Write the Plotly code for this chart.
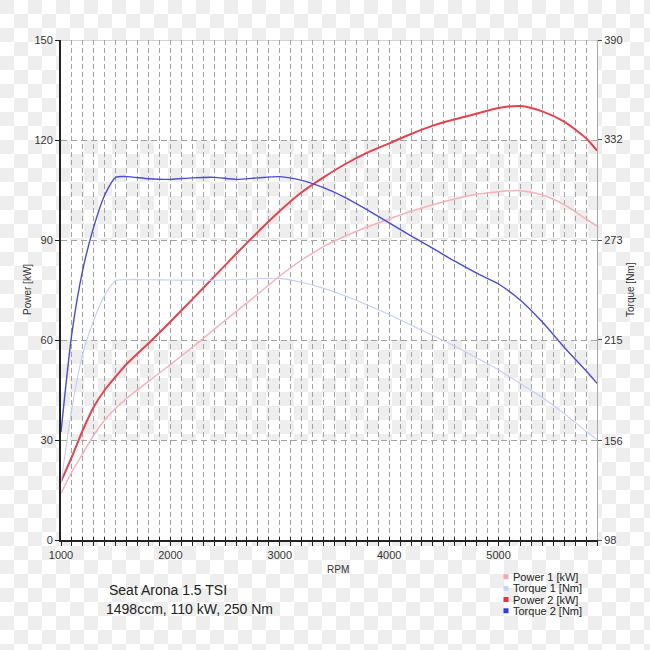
import base64
import plotly.graph_objects as go

# ---- data ----
rpm = [1000, 1100, 1200, 1300, 1400, 1500, 1600, 1800, 2000, 2200, 2400, 2600, 2800, 3000,
       3200, 3400, 3600, 3800, 4000, 4200, 4400, 4600, 4800, 5000, 5200, 5400, 5600, 5800, 5900]
power1 = [14, 20.5, 26, 31.5, 36, 39.5, 42.5, 47.6, 52.6, 57.8, 63.2, 68.5, 73.8, 79.2,
          84, 88, 91.2, 93.9, 96.3, 98.6, 100.6, 102.3, 103.7, 104.5, 104.8, 103.6, 100.6, 96.3, 94.2]
torque1 = [131, 175, 207, 226.5, 241, 249.4, 250, 250, 249.8, 249.8, 249.7, 250, 250.6, 250.8,
           248.5, 245, 240.5, 235.3, 229.7, 223.5, 217.5, 211.2, 204.4, 197.3, 189.3, 181.2, 171.8, 161.5, 156.8]
power2 = [17.5, 25, 33, 40, 45, 49, 52.8, 59, 65.5, 72.2, 79, 85.8, 92.4, 98.7,
          104.3, 108.8, 112.8, 116.2, 119, 121.8, 124.3, 126.2, 127.9, 129.6, 130.2, 128.6, 125.5, 120.5, 116.8]
torque2 = [161, 219, 256, 281, 299.5, 309.8, 310.2, 309, 308.6, 309.5, 309.8, 308.6, 309.5, 310.2,
           308, 303.8, 298, 290.8, 283.2, 275.6, 268.3, 260.8, 253.8, 247.5, 238, 225.3, 210.6, 196.8, 189.5]

power_ticks = [0, 30, 60, 90, 120, 150]
torque_ticks = [98, 156, 215, 273, 332, 390]
rpm_ticks = [1000, 2000, 3000, 4000, 5000]

series_names = ["Power 1 [kW]", "Torque 1 [Nm]", "Power 2 [kW]", "Torque 2 [Nm]"]
line_colors = ["#f5b3bb", "#c3cff6", "#e8414e", "#4b4bd9"]
key_colors = ["#f4a9b1", "#c6d2f8", "#e8303f", "#2e3be0"]
title_lines = ["Seat Arona 1.5 TSI", "1498ccm, 110 kW, 250 Nm"]

FONT = "Liberation Sans, Arial, sans-serif"
W, H = 650, 650
L, R, T, B = 61, 53, 40, 110
PW, PH = W - L - R, H - T - B


def px_x(px):
    return (px - L) / PW


def px_y(py):
    return (H - B - py) / PH


fig = go.Figure()

series = [(power1, "y", 1.5), (torque1, "y2", 1.1), (power2, "y", 2.0), (torque2, "y2", 1.4)]
order = [1, 0, 3, 2]
for i in order:
    vals, ax, w = series[i]
    fig.add_trace(go.Scatter(
        x=rpm, y=vals, yaxis=ax, xaxis="x2" if i == 1 else "x", mode="lines", name=series_names[i],
        line=dict(color=line_colors[i], width=w, shape="spline", smoothing=0.7),
        showlegend=False, hoverinfo="skip"))

# checkerboard background (transparent-image look)
svg = (f"<svg xmlns='http://www.w3.org/2000/svg' width='{W}' height='{H}'>"
       "<defs><pattern id='p' width='28' height='28' patternUnits='userSpaceOnUse'>"
       "<rect width='28' height='28' fill='#ffffff'/>"
       "<rect width='14' height='14' fill='#eeeeee'/>"
       "<rect x='14' y='14' width='14' height='14' fill='#eeeeee'/>"
       "</pattern></defs>"
       f"<rect width='{W}' height='{H}' fill='url(#p)'/></svg>")
src = "data:image/svg+xml;base64," + base64.b64encode(svg.encode()).decode()

shapes = []
for y0, y1 in [(0, 30), (60, 90), (120, 150)]:
    shapes.append(dict(type="rect", xref="paper", yref="y", x0=0, x1=1, y0=y0, y1=y1,
                       fillcolor="white", line=dict(width=0), layer="below"))
shapes.append(dict(type="line", xref="paper", yref="y", x0=0, x1=1, y0=150, y1=150,
                   line=dict(color="#a8a8a8", width=1), layer="above"))

annotations = []
lab = dict(size=10, color="#333", family=FONT)
annotations.append(dict(text="Power [kW]", xref="paper", yref="paper", x=px_x(27), y=0.5,
                        xanchor="center", yanchor="middle", textangle=-90, showarrow=False, font=lab))
annotations.append(dict(text="Torque [Nm]", xref="paper", yref="paper", x=px_x(630), y=0.5,
                        xanchor="center", yanchor="middle", textangle=-90, showarrow=False, font=lab))
annotations.append(dict(text="RPM", xref="paper", yref="paper", x=px_x(338), y=px_y(569),
                        xanchor="center", yanchor="middle", showarrow=False, font=lab))
annotations.append(dict(text=title_lines[0], xref="paper", yref="paper", x=px_x(107), y=px_y(590),
                        xanchor="left", yanchor="middle", showarrow=False,
                        font=dict(size=14, color="#222", family=FONT)))
annotations.append(dict(text=title_lines[1], xref="paper", yref="paper", x=px_x(104), y=px_y(609),
                        xanchor="left", yanchor="middle", showarrow=False,
                        font=dict(size=14, color="#222", family=FONT)))
rows = [576.7, 588.3, 599.5, 610.8]
for name, col, py in zip(series_names, key_colors, rows):
    shapes.append(dict(type="rect", xref="paper", yref="paper",
                       x0=px_x(503.5), x1=px_x(508.5), y0=px_y(py + 2.5), y1=px_y(py - 2.5),
                       fillcolor=col, line=dict(width=0)))
    annotations.append(dict(text=name, xref="paper", yref="paper", x=px_x(510.5), y=px_y(py),
                            xanchor="left", yanchor="middle", showarrow=False,
                            font=dict(size=11, color="#222", family=FONT)))

fig.update_layout(
    width=W, height=H, autosize=False,
    margin=dict(l=L, r=R, t=T, b=B, pad=0),
    paper_bgcolor="white", plot_bgcolor="rgba(0,0,0,0)",
    font=dict(family=FONT, size=11, color="#333"),
    showlegend=False,
    images=[dict(source=src, xref="paper", yref="paper", x=-L / PW, y=1 + T / PH,
                 sizex=W / PW, sizey=H / PH, sizing="stretch", layer="below", xanchor="left", yanchor="top")],
    shapes=shapes, annotations=annotations,
    xaxis=dict(range=[1000, 5900], tickvals=rpm_ticks, ticks="outside", ticklen=4,
               tickcolor="#222", showline=True, linecolor="#222", linewidth=2,
               showgrid=True, gridcolor="#a3a3a3", gridwidth=1, griddash="5px,3px",
               zeroline=False, tickfont=dict(size=11, color="#333"),
               minor=dict(dtick=100, tick0=1000, ticks="outside", ticklen=4, tickcolor="#222",
                          showgrid=True, gridcolor="#a3a3a3", gridwidth=1, griddash="5px,3px")),
    xaxis2=dict(range=[1000, 5900], matches="x", overlaying="x", anchor="y", side="bottom",
                dtick=100, tick0=1000, ticks="inside", ticklen=3, tickcolor="#222",
                showticklabels=False, showgrid=False, showline=False, zeroline=False),
    yaxis=dict(range=[0, 150], tickvals=power_ticks, ticks="outside", ticklen=4,
               tickcolor="#222", showline=True, linecolor="#222", linewidth=2,
               showgrid=True, gridcolor="#a3a3a3", gridwidth=1, griddash="6px,4px",
               zeroline=False, tickfont=dict(size=11, color="#333")),
    yaxis2=dict(range=[98, 390], tickvals=torque_ticks, overlaying="y", side="right",
                ticks="outside", ticklen=4, tickcolor="#555", showline=True,
                linecolor="#a8a8a8", linewidth=1, showgrid=False, zeroline=False,
                tickfont=dict(size=11, color="#333")),
)

fig.write_html("out.html")
